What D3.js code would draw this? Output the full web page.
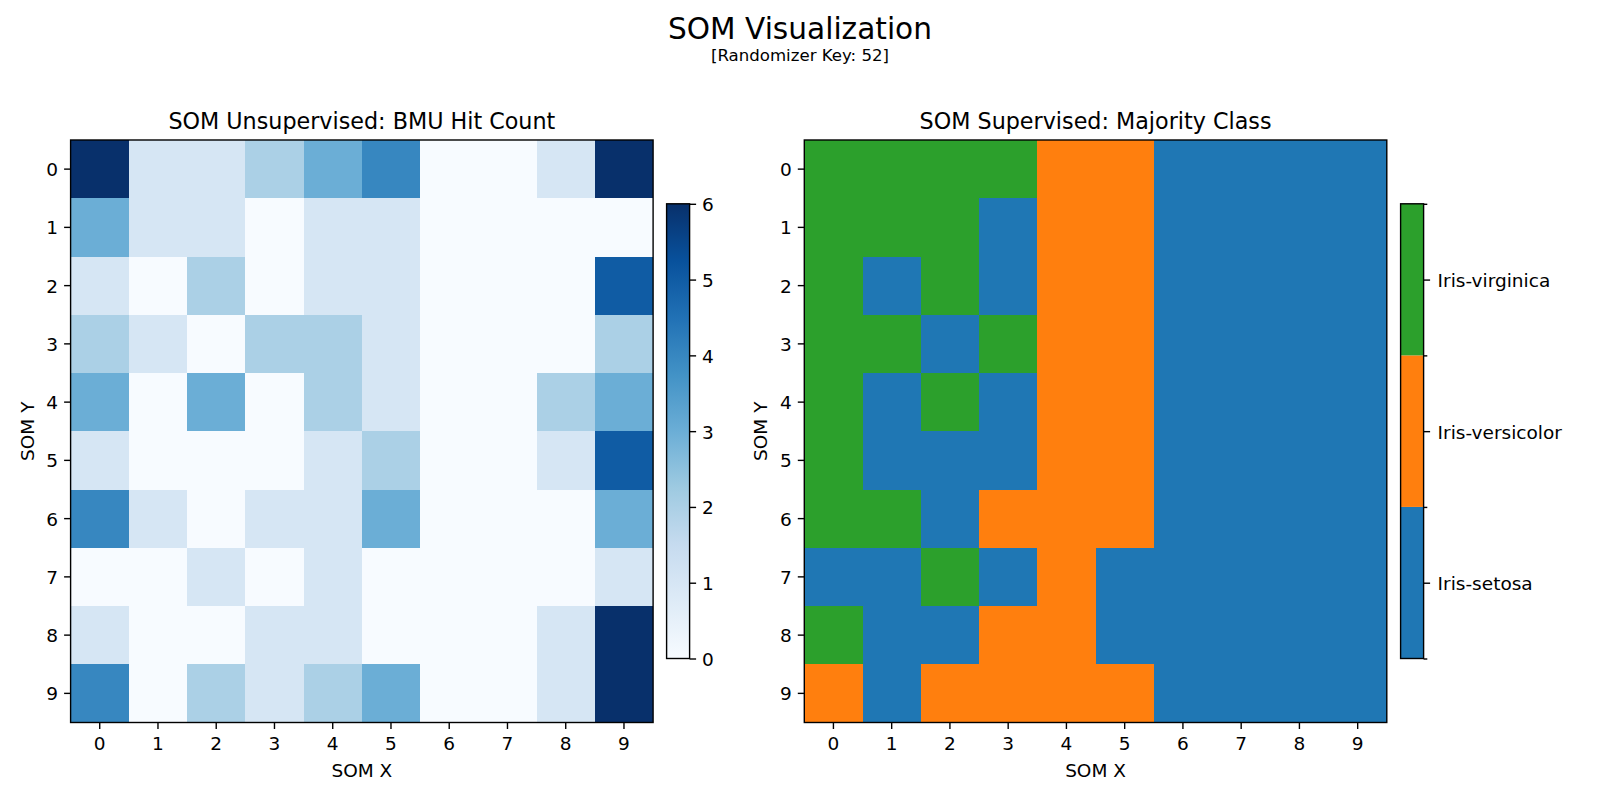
<!DOCTYPE html>
<html>
<head>
<meta charset="utf-8">
<script src="https://cdn.jsdelivr.net/npm/d3@7"></script>
<style>
  html, body { margin: 0; padding: 0; background: #fff; }
  svg { display: block; }
  text { font-family: "DejaVu Sans", sans-serif; fill: #000; }
  .axis path, .axis line { stroke: #000; stroke-width: 1.4px; }
  .axis text { font-size: 18.5px; font-family: "DejaVu Sans", sans-serif; fill: #000; }
</style>
</head>
<body>
<div id="chart"></div>
<script>
var gridIndex = [0, 1, 2, 3, 4, 5, 6, 7, 8, 9];

var hitCounts = [
  [6, 1, 1, 2, 3, 4, 0, 0, 1, 6],
  [3, 1, 1, 0, 1, 1, 0, 0, 0, 0],
  [1, 0, 2, 0, 1, 1, 0, 0, 0, 5],
  [2, 1, 0, 2, 2, 1, 0, 0, 0, 2],
  [3, 0, 3, 0, 2, 1, 0, 0, 2, 3],
  [1, 0, 0, 0, 1, 2, 0, 0, 1, 5],
  [4, 1, 0, 1, 1, 3, 0, 0, 0, 3],
  [0, 0, 1, 0, 1, 0, 0, 0, 0, 1],
  [1, 0, 0, 1, 1, 0, 0, 0, 1, 6],
  [4, 0, 2, 1, 2, 3, 0, 0, 1, 6]
];

// 0 setosa, 1 versicolor, 2 virginica
var majorityClass = [
  [2, 2, 2, 2, 1, 1, 0, 0, 0, 0],
  [2, 2, 2, 0, 1, 1, 0, 0, 0, 0],
  [2, 0, 2, 0, 1, 1, 0, 0, 0, 0],
  [2, 2, 0, 2, 1, 1, 0, 0, 0, 0],
  [2, 0, 2, 0, 1, 1, 0, 0, 0, 0],
  [2, 0, 0, 0, 1, 1, 0, 0, 0, 0],
  [2, 2, 0, 1, 1, 1, 0, 0, 0, 0],
  [0, 0, 2, 0, 1, 0, 0, 0, 0, 0],
  [2, 0, 0, 1, 1, 0, 0, 0, 0, 0],
  [1, 0, 1, 1, 1, 1, 0, 0, 0, 0]
];

var classNames = ['Iris-setosa', 'Iris-versicolor', 'Iris-virginica'];
var classColors = ['#1f77b4', '#ff7f0e', '#2ca02c'];
var countTicks = [0, 1, 2, 3, 4, 5, 6];
var bluesStops = ['#f7fbff', '#deebf7', '#c6dbef', '#9ecae1', '#6baed6', '#4292c6', '#2171b5', '#08519c', '#08306b'];

var width = 1600, height = 800;
var axSize = 582.5, axTop = 140;
var leftX = 70.6, rightX = 804.3;
var barTop = 203.8, barBottom = 658.5, barWidth = 23;
var leftBarX = 666.6, rightBarX = 1400.6;
var tickLen = 6.5, tickPad = 6;

var svg = d3.select('#chart').append('svg')
  .attr('width', width)
  .attr('height', height);

svg.append('text')
  .attr('x', 800).attr('y', 39)
  .attr('text-anchor', 'middle')
  .style('font-size', '29.6px')
  .text('SOM Visualization');

svg.append('text')
  .attr('x', 800).attr('y', 61)
  .attr('text-anchor', 'middle')
  .style('font-size', '16.6px')
  .text('[Randomizer Key: 52]');

var blues = d3.scaleLinear()
  .domain(d3.range(bluesStops.length).map(function(i) { return i * 6 / (bluesStops.length - 1); }))
  .range(bluesStops);

var classColor = d3.scaleOrdinal()
  .domain([0, 1, 2])
  .range(classColors);

// d3 centres labels a bit high for this font
function nudgeLabels(axisGroup) {
  axisGroup.selectAll('text').attr('dy', '0.38em');
  axisGroup.select('.domain').remove();
}

//
// Heatmaps
//
function drawGrid(x0, matrix, colorOf, title) {
  var g = svg.append('g').attr('transform', 'translate(' + x0 + ',' + axTop + ')');

  var x = d3.scaleBand().domain(gridIndex).range([0, axSize]);
  var y = d3.scaleBand().domain(gridIndex).range([0, axSize]);

  var rows = g.selectAll('g.row')
    .data(matrix)
    .enter().append('g')
    .attr('class', 'row')
    .attr('transform', function(d, i) { return 'translate(0,' + y(i) + ')'; });

  rows.selectAll('rect')
    .data(function(d) { return d; })
    .enter().append('rect')
    .attr('x', function(d, i) { return x(i); })
    .attr('width', x.bandwidth())
    .attr('height', y.bandwidth())
    .attr('shape-rendering', 'crispEdges')
    .attr('fill', function(d) { return colorOf(d); });

  g.append('g')
    .attr('class', 'axis')
    .attr('transform', 'translate(0,' + axSize + ')')
    .call(d3.axisBottom(x).tickSize(tickLen).tickPadding(tickPad + 1.5))
    .select('.domain').remove();

  g.append('g')
    .attr('class', 'axis')
    .call(d3.axisLeft(y).tickSize(tickLen).tickPadding(tickPad))
    .call(nudgeLabels);

  g.append('rect')
    .attr('width', axSize)
    .attr('height', axSize)
    .attr('fill', 'none')
    .attr('stroke', '#000')
    .attr('stroke-width', 1.4);

  g.append('text')
    .attr('x', axSize / 2).attr('y', -11)
    .attr('text-anchor', 'middle')
    .style('font-size', '22.25px')
    .text(title);

  g.append('text')
    .attr('x', axSize / 2).attr('y', axSize + 54)
    .attr('text-anchor', 'middle')
    .style('font-size', '18.5px')
    .text('SOM X');

  g.append('text')
    .attr('transform', 'translate(-37,' + (axSize / 2) + ') rotate(-90)')
    .attr('text-anchor', 'middle')
    .style('font-size', '18.5px')
    .text('SOM Y');
}

drawGrid(leftX, hitCounts, blues, 'SOM Unsupervised: BMU Hit Count');
drawGrid(rightX, majorityClass, classColor, 'SOM Supervised: Majority Class');

//
// Colorbars
//
var gradient = svg.append('defs').append('linearGradient')
  .attr('id', 'blues-gradient')
  .attr('x1', 0).attr('y1', 1).attr('x2', 0).attr('y2', 0);

gradient.selectAll('stop')
  .data(bluesStops)
  .enter().append('stop')
  .attr('offset', function(d, i) { return i / (bluesStops.length - 1); })
  .attr('stop-color', function(d) { return d; });

var countScale = d3.scaleLinear().domain([0, 6]).range([barBottom, barTop]);

svg.append('rect')
  .attr('x', leftBarX).attr('y', barTop)
  .attr('width', barWidth).attr('height', barBottom - barTop)
  .attr('fill', 'url(#blues-gradient)')
  .attr('stroke', '#000').attr('stroke-width', 1.4);

svg.append('g')
  .attr('class', 'axis')
  .attr('transform', 'translate(' + (leftBarX + barWidth) + ',0)')
  .call(d3.axisRight(countScale).tickValues(countTicks).tickFormat(d3.format('d')).tickSize(tickLen).tickPadding(tickPad))
  .call(nudgeLabels);

var classScale = d3.scaleLinear().domain([-0.5, 2.5]).range([barBottom, barTop]);

svg.selectAll('rect.class-seg')
  .data(classNames)
  .enter().append('rect')
  .attr('class', 'class-seg')
  .attr('x', rightBarX)
  .attr('y', function(d, i) { return classScale(i + 0.5); })
  .attr('width', barWidth)
  .attr('height', function(d, i) { return classScale(i - 0.5) - classScale(i + 0.5); })
  .attr('fill', function(d, i) { return classColors[i]; });

svg.append('rect')
  .attr('x', rightBarX).attr('y', barTop)
  .attr('width', barWidth).attr('height', barBottom - barTop)
  .attr('fill', 'none')
  .attr('stroke', '#000').attr('stroke-width', 1.4);

// boundary ticks
svg.append('g')
  .attr('class', 'axis')
  .attr('transform', 'translate(' + (rightBarX + barWidth) + ',0)')
  .call(d3.axisRight(classScale).tickValues([-0.5, 0.5, 1.5, 2.5]).tickFormat('').tickSize(3.7))
  .select('.domain').remove();

svg.append('g')
  .attr('class', 'axis')
  .attr('transform', 'translate(' + (rightBarX + barWidth) + ',0)')
  .call(d3.axisRight(classScale).tickValues([0, 1, 2]).tickFormat(function(d) { return classNames[d]; }).tickSize(tickLen).tickPadding(tickPad + 1.5))
  .call(nudgeLabels);
</script>
</body>
</html>
